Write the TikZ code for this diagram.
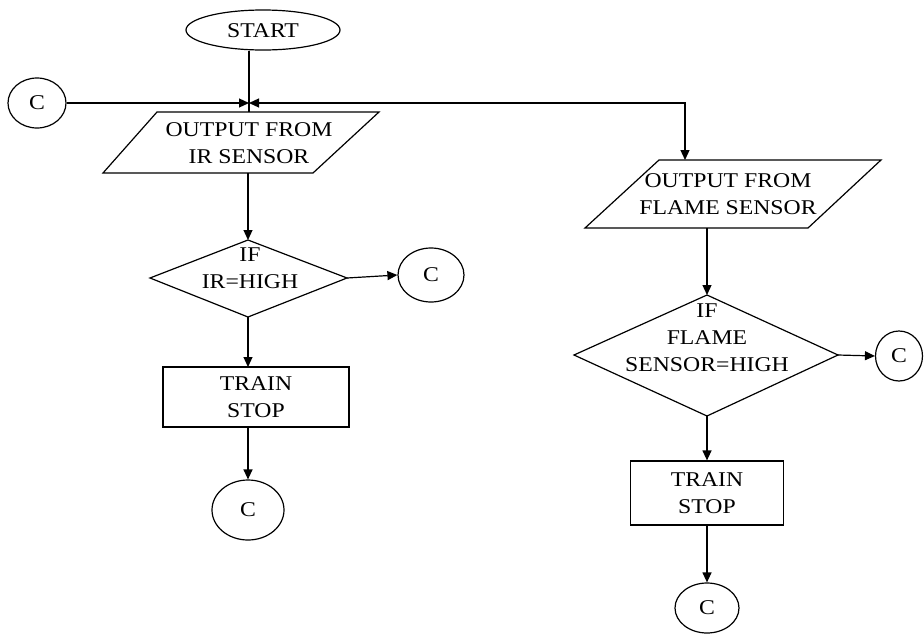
\documentclass[tikz,border=0pt]{standalone}
\usepackage{fontspec}
\setmainfont{Liberation Serif}[FakeStretch=1.13]
\usetikzlibrary{arrows.meta,shapes.geometric}
\begin{document}
\begin{tikzpicture}[x=1pt,y=-1pt,
  line width=1.2pt,
  every node/.style={font=\fontsize{21}{27}\selectfont, align=center, inner sep=0pt},
  arr/.style={-{Triangle[length=10pt,width=9pt]}},
  shp/.style={draw}]
\useasboundingbox (0,0) rectangle (924,635);

% START
\node[shp, ellipse, minimum width=154pt, minimum height=40pt] (start) at (263,30) {};
\node (starttxt) at (263,31) {START};

% left connector
\node[shp, ellipse, minimum width=58pt, minimum height=50pt] (cl) at (37,103) {C};
\coordinate (J) at (249,103);
\coordinate (K) at (685,103);

% IR parallelogram
\coordinate (ir1) at (157,112);
\coordinate (ir2) at (379,112);
\coordinate (ir3) at (313,173);
\coordinate (ir4) at (103,173);
\draw (ir1) -- (ir2) -- (ir3) -- (ir4) -- cycle;
\node (irtxt) at (249,143) {OUTPUT FROM\\IR SENSOR};
\coordinate (irtop) at (249,112);
\coordinate (irbot) at (248,173);

% IR diamond
\coordinate (d1t) at (248,240);
\coordinate (d1r) at (347,278);
\coordinate (d1b) at (248,317);
\coordinate (d1l) at (150,278);
\draw (d1t) -- (d1r) -- (d1b) -- (d1l) -- cycle;
\node (d1txt) at (250,268) {IF\\IR=HIGH};

\node[shp, ellipse, minimum width=66pt, minimum height=54pt] (c2) at (431,275) {C};

% IR rect
\node[shp, rectangle, minimum width=186pt, minimum height=60pt] (r1) at (256,397) {TRAIN\\STOP};
\coordinate (r1t) at (248,367);
\coordinate (r1b) at (248,427);

\node[shp, ellipse, minimum width=72pt, minimum height=60pt] (c3) at (248,510) {C};

% Flame parallelogram
\coordinate (f1) at (659,160);
\coordinate (f2) at (881,160);
\coordinate (f3) at (808,228);
\coordinate (f4) at (585,228);
\draw (f1) -- (f2) -- (f3) -- (f4) -- cycle;
\node (ftxt) at (728,194) {OUTPUT FROM\\FLAME SENSOR};
\coordinate (ftop) at (685,160);
\coordinate (fbot) at (707,228);

% Flame diamond
\coordinate (d2t) at (707,295);
\coordinate (d2r) at (838,355);
\coordinate (d2b) at (707,416);
\coordinate (d2l) at (574,355);
\draw (d2t) -- (d2r) -- (d2b) -- (d2l) -- cycle;
\node (d2txt) at (707,338) {IF\\FLAME\\SENSOR=HIGH};

\node[shp, ellipse, minimum width=47pt, minimum height=50pt] (c4) at (899,356) {C};

\node[shp, rectangle, minimum width=153pt, minimum height=64pt] (r2) at (707,493) {TRAIN\\STOP};

\node[shp, ellipse, minimum width=64pt, minimum height=50pt] (c5) at (707,608) {C};

% connectors
\draw (start.south -| J) -- (irtop);
\draw[arr] (cl.east) -- (J);
\draw[{Triangle[length=10pt,width=9pt]}-{Triangle[length=10pt,width=9pt]}] (J) -- (K) -- (ftop);
\draw[arr] (irbot) -- (d1t);
\draw[arr] (d1r) -- (c2.west);
\draw[arr] (d1b) -- (r1t);
\draw[arr] (r1b) -- (c3.north);
\draw[arr] (fbot) -- (d2t);
\draw[arr] (d2r) -- (c4.west);
\draw[arr] (d2b) -- (r2.north);
\draw[arr] (r2.south) -- (c5.north);
\end{tikzpicture}
\end{document}
